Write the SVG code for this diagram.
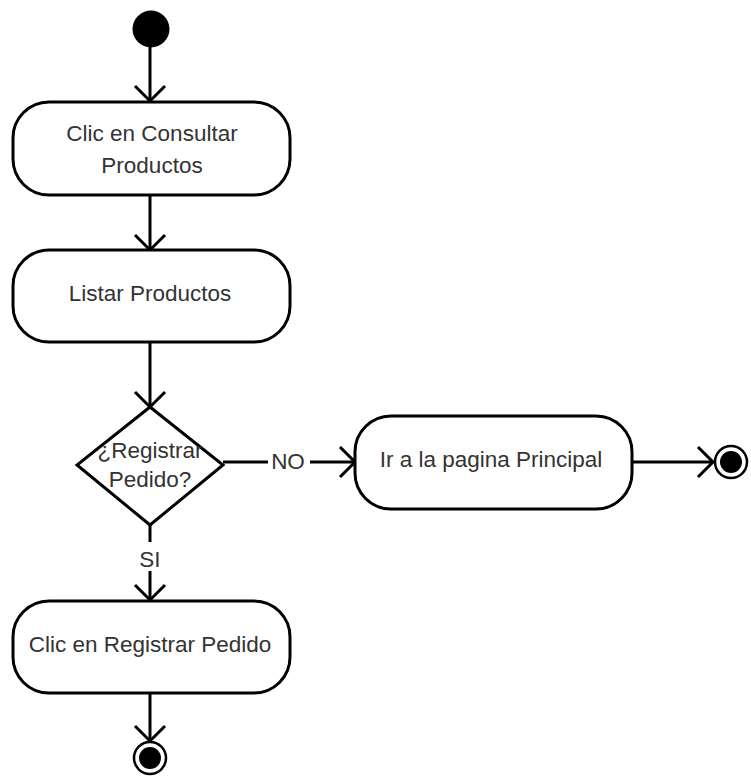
<svg xmlns="http://www.w3.org/2000/svg" width="751" height="778" viewBox="0 0 751 778">
  <style>
    .act { fill: #ffffff; stroke: #000000; stroke-width: 3; }
    .lbl { font-family: "Liberation Sans", Arial, Helvetica, sans-serif; font-size: 22.5px; fill: #333333; text-anchor: middle; }
    .edge { fill: none; stroke: #000000; stroke-width: 3; }
  </style>
  <defs>
    <marker id="open" viewBox="-17 -17 20 34" refX="0" refY="0" markerWidth="20" markerHeight="34" markerUnits="userSpaceOnUse" orient="auto" overflow="visible">
      <path d="M -15 -15 L 0 0 L -15 15" fill="none" stroke="#000000" stroke-width="3"/>
    </marker>
  </defs>
  <rect width="751" height="778" fill="#ffffff"/>

  <!-- connectors -->
  <g id="connectors">
    <line class="edge" x1="150" y1="46" x2="150" y2="101" marker-end="url(#open)"/>
    <line class="edge" x1="150" y1="195" x2="150" y2="250" marker-end="url(#open)"/>
    <line class="edge" x1="150" y1="342" x2="150" y2="407" marker-end="url(#open)"/>
    <line class="edge" x1="150" y1="525" x2="150" y2="542"/>
    <text class="lbl" x="150" y="567">SI</text>
    <line class="edge" x1="150" y1="571" x2="150" y2="600" marker-end="url(#open)"/>
    <line class="edge" x1="150" y1="693" x2="150" y2="741" marker-end="url(#open)"/>
    <line class="edge" x1="223" y1="462" x2="268" y2="462"/>
    <text class="lbl" x="288" y="469">NO</text>
    <line class="edge" x1="310" y1="462" x2="355" y2="462" marker-end="url(#open)"/>
    <line class="edge" x1="632" y1="462" x2="713" y2="462" marker-end="url(#open)"/>
  </g>

  <!-- start -->
  <g id="start">
    <circle cx="151" cy="29" r="18.5" fill="#000000"/>
  </g>

  <g id="consultar">
    <rect class="act" x="13" y="102" width="277" height="93" rx="36" ry="36"/>
    <text class="lbl" x="152" y="141">Clic en Consultar</text>
    <text class="lbl" x="152" y="173">Productos</text>
  </g>

  <g id="listar">
    <rect class="act" x="13" y="250" width="277" height="92" rx="36" ry="36"/>
    <text class="lbl" x="150" y="301">Listar Productos</text>
  </g>

  <g id="decision">
    <polygon class="act" points="150,407 223,465 150,525 77,465"/>
    <text class="lbl" x="150" y="458">¿Registrar</text>
    <text class="lbl" x="150" y="487">Pedido?</text>
  </g>

  <g id="principal">
    <rect class="act" x="355" y="416" width="277" height="93" rx="36" ry="36"/>
    <text class="lbl" x="491" y="467">Ir a la pagina Principal</text>
  </g>

  <g id="registrar">
    <rect class="act" x="13" y="601" width="277" height="92" rx="36" ry="36"/>
    <text class="lbl" x="150" y="652">Clic en Registrar Pedido</text>
  </g>

  <g id="end-principal">
    <circle cx="731" cy="462" r="16" fill="#ffffff" stroke="#000000" stroke-width="2.5"/>
    <circle cx="731" cy="462" r="11" fill="#000000"/>
  </g>

  <g id="end-registrar">
    <circle cx="150" cy="758" r="16" fill="#ffffff" stroke="#000000" stroke-width="2.5"/>
    <circle cx="150" cy="758" r="11" fill="#000000"/>
  </g>
</svg>
